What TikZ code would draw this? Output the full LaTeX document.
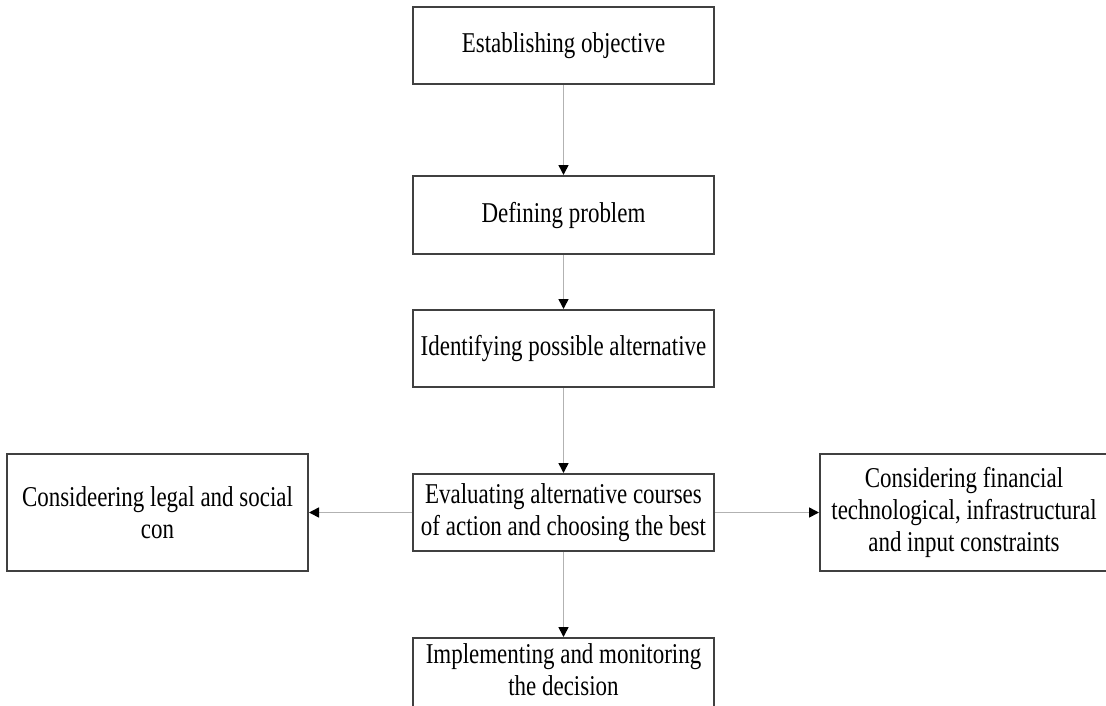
\documentclass[tikz,border=0pt]{standalone}
\usepackage{fontspec}
\setmainfont{Liberation Serif}[FakeStretch=0.8]
\usepackage{tikz}
\usetikzlibrary{positioning, arrows.meta}

\begin{document}
\begin{tikzpicture}[
  x=1pt, y=-1pt,
  font=\fontsize{28.7}{32}\selectfont,
  node distance=85pt and 103pt,
  box/.style={draw=black!75, line width=2pt, minimum width=301pt,
    minimum height=77pt, align=center, inner sep=0pt, fill=white},
  sidebox/.style={box, minimum height=117pt},
  arrow/.style={-{Triangle[length=10pt, width=10pt, color=black]},
    draw=black!30, line width=1.6pt},
]
  \useasboundingbox (0,0) rectangle (1106,705);

  \node[box] (obj) at (563.5,45.5) {Establishing objective};
  \node[box, minimum height=78pt, below=90pt of obj] (prob) {Defining problem};
  \node[box, below=54pt of prob] (alt) {Identifying possible alternative};
  \node[box, below=of alt] (eval) {Evaluating alternative courses\\of action and choosing the best};
  \node[box, text depth=14pt, below=of eval] (impl) {Implementing and monitoring\\the decision};
  \node[sidebox, left=of eval] (legal) {Consideering legal and social\\con};
  \node[sidebox, minimum width=288pt, right=104pt of eval] (fin)
    {Considering financial\\technological, infrastructural\\and input constraints};

  \draw[arrow] (obj) -- (prob);
  \draw[arrow] (prob) -- (alt);
  \draw[arrow] (alt) -- (eval);
  \draw[arrow] (eval) -- (impl);
  \draw[arrow] (eval) -- (legal);
  \draw[arrow] (eval) -- (fin);
\end{tikzpicture}
\end{document}
